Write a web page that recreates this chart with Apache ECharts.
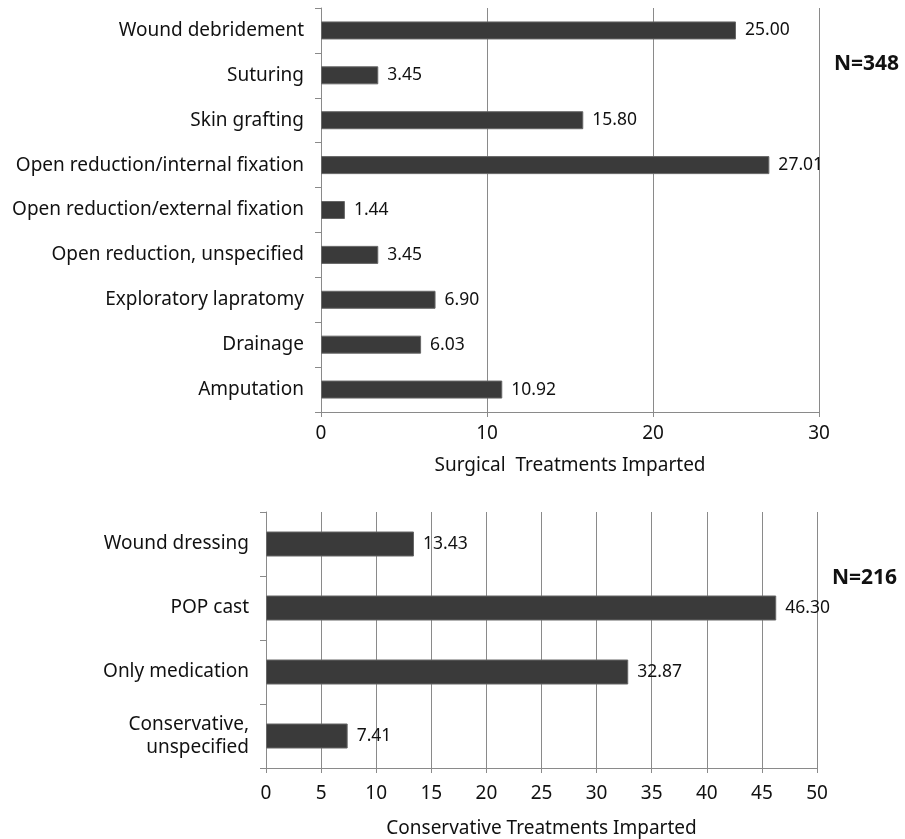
<!DOCTYPE html>
<html><head><meta charset="utf-8">
<script src="https://cdn.jsdelivr.net/npm/echarts@6/dist/echarts.min.js"></script>
<style>html,body{margin:0;padding:0;background:#fff;}#c{width:905px;height:839px;}</style>
</head><body><div id="c"></div>
<script>
const surgicalCategories = ['Wound debridement','Suturing','Skin grafting','Open reduction/internal fixation','Open reduction/external fixation','Open reduction, unspecified','Exploratory lapratomy','Drainage','Amputation'];
const surgicalValues = [25.00, 3.45, 15.80, 27.01, 1.44, 3.45, 6.90, 6.03, 10.92];
const conservativeCategories = ['Wound dressing','POP cast','Only medication','Conservative,\nunspecified'];
const conservativeValues = [13.43, 46.30, 32.87, 7.41];
const surgicalTicks = [0, 10, 20, 30];
const conservativeTicks = [0, 5, 10, 15, 20, 25, 30, 35, 40, 45, 50];

const FONT = 'Noto Sans';
const lineColor = '#8a8a8a';
const chart = echarts.init(document.getElementById('c'), null, {renderer: 'canvas'});
function xAxisCfg(idx, ticks, name, nameGap, labelMargin) {
  return {
    type: 'value', gridIndex: idx, min: ticks[0], max: ticks[ticks.length-1],
    interval: ticks[1]-ticks[0],
    name: name, nameLocation: 'middle', nameGap: nameGap,
    nameTextStyle: {fontFamily: FONT, fontSize: 19, color: '#111'},
    axisLine: {show: true, lineStyle: {color: lineColor, width: 1}},
    axisTick: {show: true, length: 5, lineStyle: {color: lineColor}},
    axisLabel: {fontFamily: FONT, fontSize: 19, color: '#111', margin: labelMargin},
    splitLine: {show: true, lineStyle: {color: lineColor, width: 1}}
  };
}
function yAxisCfg(idx, cats) {
  return {
    type: 'category', gridIndex: idx, data: cats, inverse: true,
    axisLine: {show: true, lineStyle: {color: lineColor, width: 1}},
    axisTick: {show: true, length: 6, lineStyle: {color: lineColor}},
    axisLabel: {fontFamily: FONT, fontSize: 19, color: '#111', margin: 17, lineHeight: 23},
    splitLine: {show: false}
  };
}
function seriesCfg(idx, vals, bw) {
  return {
    type: 'bar', xAxisIndex: idx, yAxisIndex: idx, data: vals, barWidth: bw,
    itemStyle: {color: '#3a3a3a', borderColor: '#666', borderWidth: 1},
    label: {show: true, position: 'right', distance: 9, formatter: p => p.value.toFixed(2),
      fontFamily: FONT, fontSize: 17.5, color: '#111'},
    silent: true, animation: false
  };
}
chart.setOption({
  animation: false,
  grid: [
    {left: 321, right: 86, top: 8, height: 404},
    {left: 266, right: 88, top: 512, height: 256}
  ],
  xAxis: [xAxisCfg(0, surgicalTicks, 'Surgical  Treatments Imparted', 44, 12), xAxisCfg(1, conservativeTicks, 'Conservative Treatments Imparted', 51, 16)],
  yAxis: [yAxisCfg(0, surgicalCategories), yAxisCfg(1, conservativeCategories)],
  series: [seriesCfg(0, surgicalValues, 18), seriesCfg(1, conservativeValues, 25)],
  graphic: [
    {type: 'text', left: 834, top: 54, style: {text: 'N=348', font: 'bold 21px "Noto Sans"', fill: '#111'}},
    {type: 'text', left: 832, top: 568, style: {text: 'N=216', font: 'bold 21px "Noto Sans"', fill: '#111'}}
  ]
});
</script></body></html>
